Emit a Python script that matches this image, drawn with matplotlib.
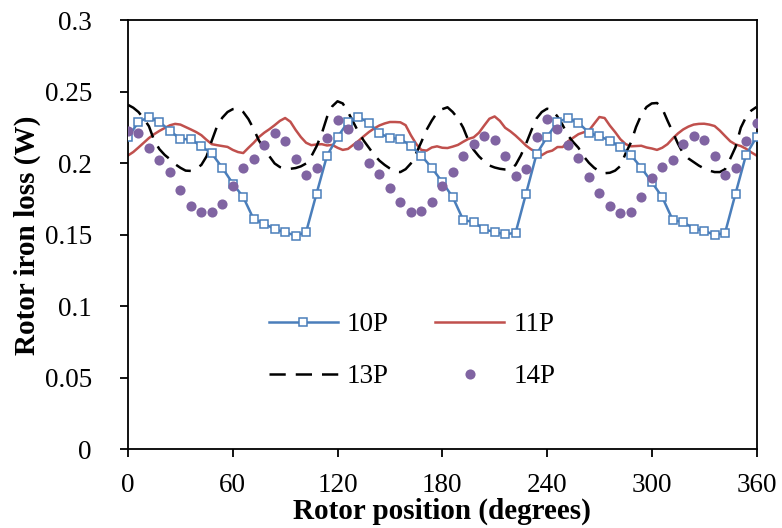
import numpy as np
import matplotlib
matplotlib.use("Agg")
import matplotlib.pyplot as plt

# ---- data ----
pos6 = list(range(0, 361, 6))
pos3 = list(range(0, 361, 3))

loss_10p = [0.2185, 0.229, 0.2325, 0.229, 0.223, 0.217, 0.217, 0.212, 0.207, 0.197,
            0.186, 0.1765, 0.161, 0.158, 0.154, 0.152, 0.1495, 0.152, 0.179, 0.2055,
            0.2185, 0.229, 0.2325, 0.2285, 0.221, 0.218, 0.217, 0.2125, 0.2055, 0.197,
            0.187, 0.1765, 0.1605, 0.159, 0.154, 0.152, 0.1505, 0.1515, 0.179, 0.2065,
            0.2185, 0.229, 0.2317, 0.2285, 0.2215, 0.219, 0.216, 0.2115, 0.206, 0.197,
            0.187, 0.1765, 0.1605, 0.159, 0.1545, 0.153, 0.150, 0.1515, 0.179, 0.206,
            0.2185]

loss_14p = [0.223, 0.221, 0.2108, 0.2026, 0.194, 0.1818, 0.1706, 0.166, 0.166, 0.1717,
            0.1846, 0.1967, 0.2033, 0.2126, 0.2213, 0.2157, 0.2028, 0.1916, 0.197, 0.2178,
            0.2302, 0.2238, 0.2126, 0.2005, 0.1928, 0.183, 0.1734, 0.166, 0.167, 0.1729,
            0.1841, 0.194, 0.2049, 0.2138, 0.219, 0.2161, 0.2049, 0.1909, 0.1963, 0.2185,
            0.2313, 0.2238, 0.2131, 0.2037, 0.1904, 0.1794, 0.1706, 0.1652, 0.1664, 0.1764,
            0.1897, 0.1974, 0.2026, 0.2138, 0.219, 0.2161, 0.2049, 0.192, 0.197, 0.2157,
            0.2285]

loss_13p = [0.241, 0.239, 0.236, 0.2315, 0.226, 0.216, 0.210, 0.206, 0.203, 0.1995,
            0.197, 0.195, 0.1948, 0.1963, 0.199, 0.205, 0.216, 0.226, 0.232, 0.236,
            0.238, 0.2385, 0.236, 0.231, 0.224, 0.216, 0.2105, 0.205, 0.200, 0.1975,
            0.1965, 0.1963, 0.1968, 0.198, 0.200, 0.205, 0.212, 0.221, 0.2325, 0.240,
            0.2435, 0.242, 0.236, 0.229, 0.222, 0.216, 0.211, 0.206, 0.202, 0.199,
            0.1965, 0.1942, 0.194, 0.196, 0.200, 0.207, 0.215, 0.2235, 0.230, 0.2355,
            0.238, 0.2393, 0.236, 0.2315, 0.225, 0.216, 0.2095, 0.205, 0.2015, 0.1986,
            0.1972, 0.1963, 0.1958, 0.1957, 0.199, 0.2056, 0.2138, 0.223, 0.2315, 0.236,
            0.2383, 0.2375, 0.2328, 0.2268, 0.2196, 0.215, 0.211, 0.205, 0.2005, 0.197,
            0.1945, 0.1932, 0.1935, 0.195, 0.1982, 0.207, 0.2145, 0.2255, 0.234, 0.2395,
            0.242, 0.2423, 0.2385, 0.230, 0.222, 0.2138, 0.207, 0.2035, 0.201, 0.1985,
            0.1965, 0.195, 0.194, 0.194, 0.196, 0.2035, 0.2115, 0.225, 0.2325, 0.237,
            0.2395]

loss_11p = [0.2056, 0.208, 0.2112, 0.2145, 0.2178, 0.2205, 0.2228, 0.2248, 0.2267, 0.2277,
            0.2272, 0.2255, 0.2238, 0.222, 0.2198, 0.2165, 0.2135, 0.2128, 0.2122, 0.2116,
            0.2095, 0.208, 0.2073, 0.211, 0.2145, 0.2185, 0.2215, 0.224, 0.2268, 0.2298,
            0.2318, 0.2292, 0.2235, 0.2185, 0.2145, 0.2128, 0.2133, 0.2135, 0.2126, 0.213,
            0.211, 0.2095, 0.2102, 0.213, 0.2158, 0.219, 0.222, 0.2245, 0.2266, 0.228,
            0.229, 0.229, 0.2288, 0.2268, 0.2198, 0.2138, 0.2095, 0.209, 0.2112, 0.212,
            0.211, 0.2108, 0.2118, 0.213, 0.2152, 0.2172, 0.2183, 0.2215, 0.2265, 0.2313,
            0.2329, 0.2298, 0.225, 0.2225, 0.2195, 0.2161, 0.2125, 0.2098, 0.2083, 0.2058,
            0.208, 0.209, 0.2115, 0.2115, 0.2155, 0.218, 0.2205, 0.2218, 0.223, 0.2278,
            0.2325, 0.2318, 0.2265, 0.222, 0.217, 0.2136, 0.212, 0.2122, 0.2124, 0.2112,
            0.2105, 0.2095, 0.211, 0.2135, 0.2175, 0.221, 0.2238, 0.2258, 0.2272, 0.2277,
            0.2278, 0.2272, 0.2262, 0.223, 0.2192, 0.2155, 0.2133, 0.2122, 0.2103, 0.2078,
            0.2056]

x_ticks = [0, 60, 120, 180, 240, 300, 360]
y_ticks = [0, 0.05, 0.1, 0.15, 0.2, 0.25, 0.3]
y_ticklabels = ["0", "0.05", "0.1", "0.15", "0.2", "0.25", "0.3"]

# ---- style ----
plt.rcParams['font.family'] = ['Liberation Serif', 'DejaVu Serif']
FS = 19.5
LFS = 21

fig = plt.figure(figsize=(7.82, 5.28), dpi=100)
ax = fig.add_axes([0.1637, 0.1487, 0.9674 - 0.1637, 0.9612 - 0.1487])

blue = '#4A7EBB'
red = '#C0504D'
purple = '#8064A2'

h10, = ax.plot(pos6, loss_10p, color=blue, lw=1.8, marker='s', markersize=6.3,
               markerfacecolor='white', markeredgecolor=blue, markeredgewidth=1.1,
               label='10P', zorder=3)
h11, = ax.plot(pos3, loss_11p, color=red, lw=1.8, label='11P', zorder=2)
h13, = ax.plot(pos3, loss_13p, color='black', lw=1.8, dashes=(6.5, 4), label='13P', zorder=2)
h14, = ax.plot(pos6, loss_14p, linestyle='none', marker='o', markersize=7.3,
               color=purple, markeredgewidth=0, label='14P', zorder=4)

ax.set_xlim(0, 360)
ax.set_ylim(0, 0.3)
ax.set_xticks(x_ticks)
ax.set_yticks(y_ticks)
ax.set_yticklabels(y_ticklabels)
ax.tick_params(axis='both', direction='out', length=6, width=1.3, labelsize=FS, colors='black')
ax.tick_params(axis='y', pad=20)
ax.tick_params(axis='x', pad=11)
for s in ax.spines.values():
    s.set_linewidth(1.3)
    s.set_color('black')

ax.set_xlabel('Rotor position (degrees)', fontsize=LFS, fontweight='bold', labelpad=0)
ax.set_ylabel('Rotor iron loss (W)', fontsize=LFS, fontweight='bold', labelpad=2.5)

leg = ax.legend([h10, h13, h11, h14], ['10P', '13P', '11P', '14P'],
                ncol=2, frameon=False, fontsize=FS, loc='center',
                bbox_to_anchor=(0.452, 0.230), handlelength=2.55, handletextpad=0.35,
                columnspacing=1.7, labelspacing=1.0)

fig.savefig('out.png', dpi=100)
